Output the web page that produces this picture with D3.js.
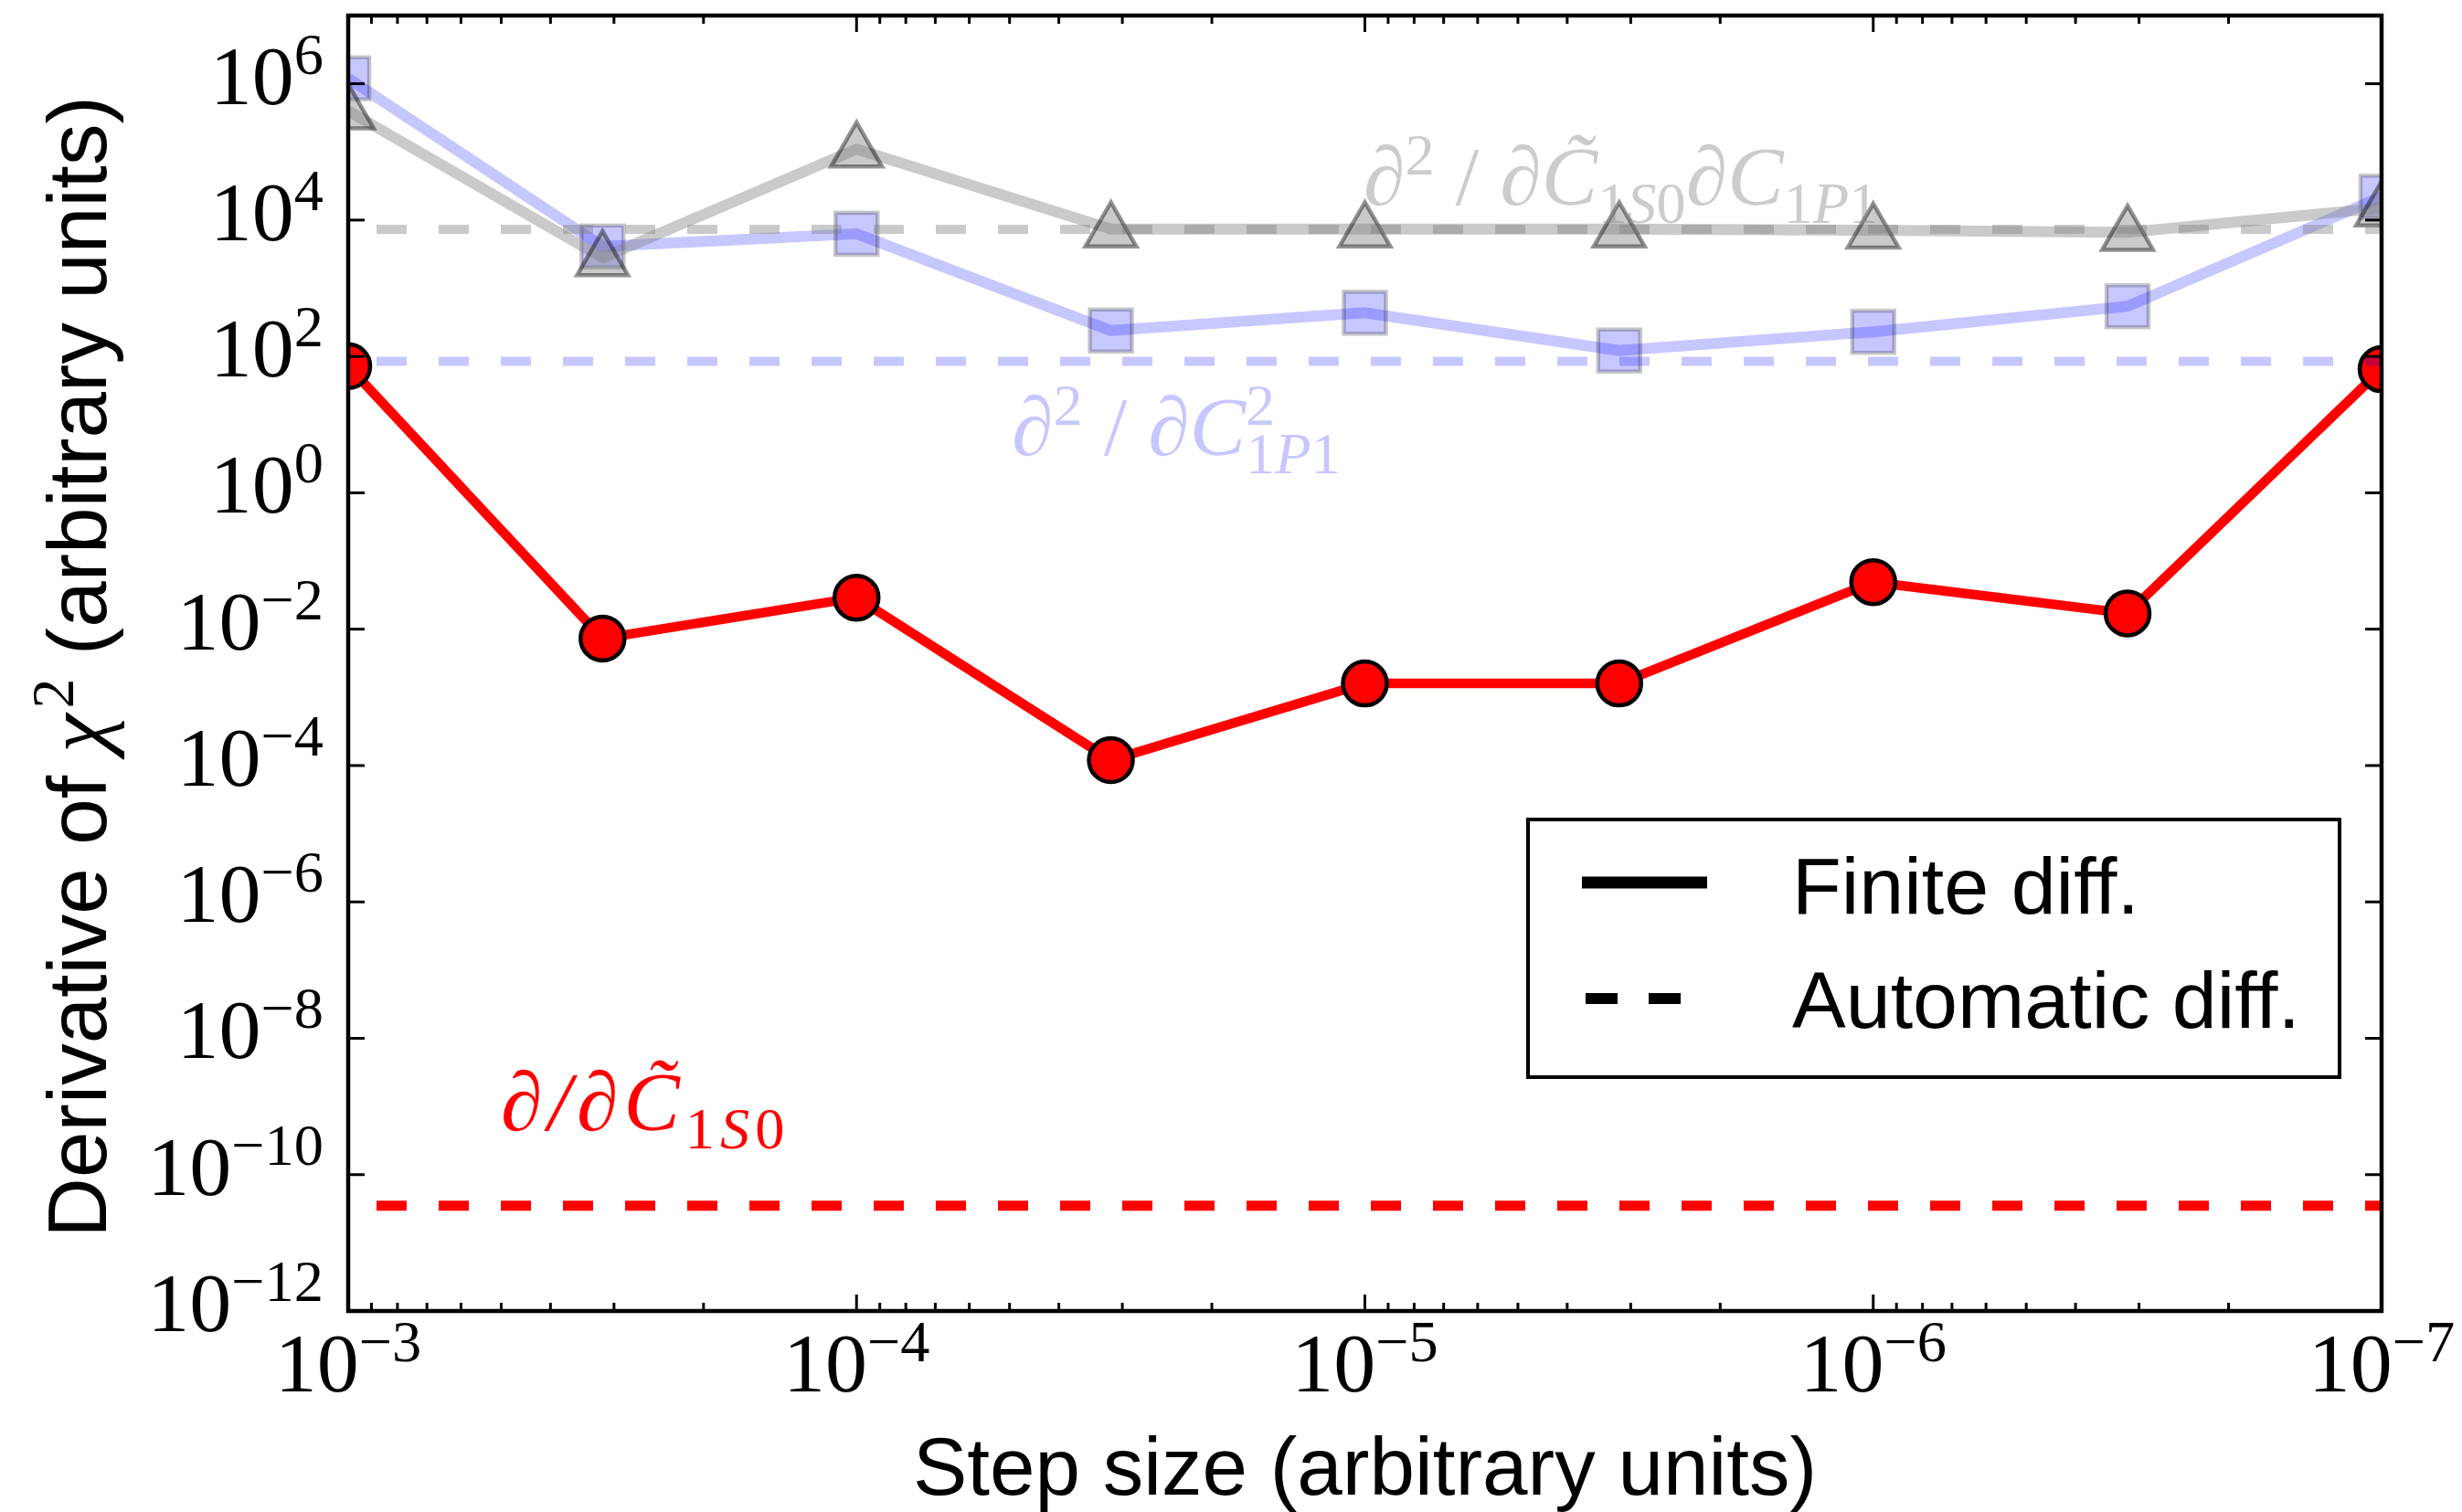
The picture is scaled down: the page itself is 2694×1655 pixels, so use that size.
<!DOCTYPE html>
<html>
<head>
<meta charset="utf-8">
<script src="https://cdn.jsdelivr.net/npm/d3@7"></script>
<style>
  html, body { margin: 0; padding: 0; background: #fff; }
  svg { display: block; }
</style>
</head>
<body>
<svg id="chart" width="2694" height="1655"></svg>
<script>
// Step sizes used for the finite-difference estimates
const stepSizes = [1e-3, 3.16e-4, 1e-4, 3.16e-5, 1e-5, 3.16e-6, 1e-6, 3.16e-7, 1e-7];

// dχ²/dC̃1S0 : finite difference vs automatic differentiation
const firstDerivFD = [72, 7.3e-3, 2.9e-2, 1.2e-4, 1.6e-3, 1.6e-3, 4.9e-2, 1.7e-2, 65];
const firstDerivAD = 3.5e-11;

// d²χ²/dC1P1² : finite difference vs automatic differentiation
const secondDerivFD = [1.2e6, 4.1e3, 6.3e3, 240, 437, 122, 230, 545, 2.2e4];
const secondDerivAD = 85;

// d²χ²/dC̃1S0 dC1P1 : finite difference vs automatic differentiation
const mixedDerivFD = [4e5, 2.8e3, 1.1e5, 7.4e3, 7.4e3, 7.4e3, 7.1e3, 6.6e3, 1.5e4];
const mixedDerivAD = 7.3e3;

// Axis ticks
const xTickExponents = [-3, -4, -5, -6, -7];
const yTickExponents = [-12, -10, -8, -6, -4, -2, 0, 2, 4, 6];
const xDomain = [1e-3, 1e-7];
const yDomain = [1e-12, 1e7];

const legendLabels = ["Finite diff.", "Automatic diff."];

const svg = d3.select("#chart");
const M = { left: 381, right: 2606, top: 17, bottom: 1435 };

const x = d3.scaleLog().domain(xDomain).range([M.left, M.right]);
const y = d3.scaleLog().domain(yDomain).range([M.bottom, M.top]);

const SERIF = "'Liberation Serif', 'DejaVu Serif', serif";
const SANS = "'Liberation Sans', Arial, Helvetica, sans-serif";

svg.append("defs").append("clipPath").attr("id", "plotClip")
  .append("rect")
  .attr("x", M.left).attr("y", M.top)
  .attr("width", M.right - M.left).attr("height", M.bottom - M.top);

const plot = svg.append("g").attr("clip-path", "url(#plotClip)");

const lineGen = d3.line().x(d => x(d[0])).y(d => y(d[1]));
const DASH = "33,35";
const DASH_OFFSET = 37;

function drawSeries(values, adValue, opts) {
  const pts = stepSizes.map((s, i) => [s, values[i]]);
  const g = plot.append("g");
  g.append("path")
    .attr("d", lineGen(pts))
    .attr("fill", "none")
    .attr("stroke", opts.color)
    .attr("stroke-opacity", opts.alpha)
    .attr("stroke-width", opts.lw)
    .attr("stroke-linejoin", "round");

  const markers = g.selectAll(".m").data(pts).enter();
  if (opts.marker === "circle") {
    markers.append("circle")
      .attr("cx", d => x(d[0])).attr("cy", d => y(d[1]))
      .attr("r", 24)
      .attr("fill", opts.color).attr("fill-opacity", opts.alpha)
      .attr("stroke", "#000").attr("stroke-opacity", opts.alpha)
      .attr("stroke-width", 4.5);
  } else if (opts.marker === "square") {
    markers.append("rect")
      .attr("x", d => x(d[0]) - 23).attr("y", d => y(d[1]) - 23)
      .attr("width", 46).attr("height", 46)
      .attr("fill", opts.color).attr("fill-opacity", opts.alpha)
      .attr("stroke", "#000").attr("stroke-opacity", opts.alpha)
      .attr("stroke-width", 4.5);
  } else if (opts.marker === "triangle") {
    const tri = d3.symbol().type(d3.symbolTriangle).size(1350);
    markers.append("path")
      .attr("d", tri)
      .attr("transform", d => `translate(${x(d[0])},${y(d[1]) + 3})`)
      .attr("fill", opts.color).attr("fill-opacity", opts.alpha)
      .attr("stroke", "#000").attr("stroke-opacity", opts.alpha)
      .attr("stroke-width", 4.5);
  }

  g.append("path")
    .attr("d", lineGen([[xDomain[0], adValue], [xDomain[1], adValue]]))
    .attr("fill", "none")
    .attr("stroke", opts.color)
    .attr("stroke-opacity", opts.alpha)
    .attr("stroke-width", opts.dashLw)
    .attr("stroke-dasharray", DASH)
    .attr("stroke-dashoffset", DASH_OFFSET);
}

drawSeries(firstDerivFD, firstDerivAD, { color: "#ff0000", alpha: 1, lw: 10.5, dashLw: 11, marker: "circle" });
drawSeries(secondDerivFD, secondDerivAD, { color: "#0000ff", alpha: 0.22, lw: 12, dashLw: 10, marker: "square" });
drawSeries(mixedDerivFD, mixedDerivAD, { color: "#808080", alpha: 0.42, lw: 12, dashLw: 10, marker: "triangle" });

// ---- math-style text helper ----
// parts: {t, it (italic), lv: 0 base | 1 sup | -1 sub, dx}
function mathText(sel, parts, size) {
  const raise = { 0: 0, 1: -0.36 * size, "-1": 0.22 * size };
  let cur = 0;
  parts.forEach(p => {
    const lv = p.lv || 0;
    const target = raise[lv];
    const ts = sel.append("tspan")
      .attr("font-style", p.it ? "italic" : "normal")
      .attr("font-size", lv === 0 ? size : size * 0.7)
      .attr("dy", target - cur)
      .text(p.t);
    if (p.dx) ts.attr("dx", p.dx);
    cur = target;
  });
}

// ---- frame, ticks ----
const axes = svg.append("g");
const majorLen = 18, minorLen = 9;

// x ticks (bottom & top, inward)
const xMajor = xTickExponents.map(e => Math.pow(10, e));
const xMinor = [];
for (let e = -7; e < -3; e++) for (let m = 2; m <= 9; m++) xMinor.push(m * Math.pow(10, e));

[[xMajor, majorLen], [xMinor, minorLen]].forEach(([vals, len]) => {
  vals.forEach(v => {
    const px = x(v);
    axes.append("line").attr("x1", px).attr("x2", px)
      .attr("y1", M.bottom).attr("y2", M.bottom - len)
      .attr("stroke", "#000").attr("stroke-width", 3);
    axes.append("line").attr("x1", px).attr("x2", px)
      .attr("y1", M.top).attr("y2", M.top + len)
      .attr("stroke", "#000").attr("stroke-width", 3);
  });
});

// y ticks (left & right, inward)
yTickExponents.forEach(e => {
  const py = y(Math.pow(10, e));
  axes.append("line").attr("x1", M.left).attr("x2", M.left + majorLen)
    .attr("y1", py).attr("y2", py).attr("stroke", "#000").attr("stroke-width", 3);
  axes.append("line").attr("x1", M.right).attr("x2", M.right - majorLen)
    .attr("y1", py).attr("y2", py).attr("stroke", "#000").attr("stroke-width", 3);
});

axes.append("rect")
  .attr("x", M.left).attr("y", M.top)
  .attr("width", M.right - M.left).attr("height", M.bottom - M.top)
  .attr("fill", "none").attr("stroke", "#000").attr("stroke-width", 4.5);

const TICK_FS = 92;
const fmtExp = e => (e < 0 ? "\u2212" : "") + Math.abs(e);

// x tick labels
xTickExponents.forEach(e => {
  const t = svg.append("text")
    .attr("x", x(Math.pow(10, e))).attr("y", 1523)
    .attr("text-anchor", "middle")
    .attr("font-family", SERIF).attr("fill", "#000");
  mathText(t, [{ t: "10" }, { t: fmtExp(e), lv: 1 }], TICK_FS);
});

// y tick labels
yTickExponents.forEach(e => {
  const t = svg.append("text")
    .attr("x", 354).attr("y", y(Math.pow(10, e)) + 22)
    .attr("text-anchor", "end")
    .attr("font-family", SERIF).attr("fill", "#000");
  mathText(t, [{ t: "10" }, { t: fmtExp(e), lv: 1 }], TICK_FS);
});

// axis labels
svg.append("text")
  .attr("x", (M.left + M.right) / 2).attr("y", 1636)
  .attr("text-anchor", "middle")
  .attr("font-family", SANS).attr("font-size", 89)
  .text("Step size (arbitrary units)");

const yl = svg.append("text")
  .attr("transform", `translate(116,${(M.top + M.bottom) / 2 + 4}) rotate(-90)`)
  .attr("text-anchor", "middle")
  .attr("font-family", SANS).attr("font-size", 91);
yl.append("tspan").text("Derivative of ");
yl.append("tspan").attr("font-family", SERIF).attr("font-style", "italic").attr("font-size", 96).text("\u03C7");
yl.append("tspan").attr("font-family", SERIF).attr("font-size", 66).attr("dy", -36).attr("dx", 6).text("2");
yl.append("tspan").attr("dy", 36).text(" (arbitrary units)");

// series annotations
const ANN_FS = 92;
const annGray = svg.append("text")
  .attr("x", 1492).attr("y", 224)
  .attr("font-family", SERIF).attr("fill", "#808080").attr("fill-opacity", 0.4);
mathText(annGray, [
  { t: "\u2202", it: true }, { t: "2", lv: 1 }, { t: " / " },
  { t: "\u2202C\u0303", it: true }, { t: "1", lv: -1 }, { t: "S", it: true, lv: -1 }, { t: "0", lv: -1 },
  { t: "\u2202C", it: true }, { t: "1", lv: -1 }, { t: "P", it: true, lv: -1 }, { t: "1", lv: -1 }
], ANN_FS);

const annBlue = svg.append("text")
  .attr("x", 1107).attr("y", 498)
  .attr("font-family", SERIF).attr("fill", "#0000ff").attr("fill-opacity", 0.22);
mathText(annBlue, [
  { t: "\u2202", it: true }, { t: "2", lv: 1 }, { t: " / " },
  { t: "\u2202C", it: true }, { t: "2", lv: 1 },
  { t: "1", lv: -1, dx: -ANN_FS * 0.35 }, { t: "P", it: true, lv: -1 }, { t: "1", lv: -1 }
], ANN_FS);

const annRed = svg.append("text")
  .attr("x", 548).attr("y", 1237)
  .attr("font-family", SERIF).attr("fill", "#ff0000")
  .attr("letter-spacing", 6);
mathText(annRed, [
  { t: "\u2202/\u2202C\u0303", it: true }, { t: "1", lv: -1 }, { t: "S", it: true, lv: -1 }, { t: "0", lv: -1 }
], ANN_FS);

// legend
const lg = svg.append("g");
lg.append("rect")
  .attr("x", 1672).attr("y", 897).attr("width", 888).attr("height", 282)
  .attr("fill", "#fff").attr("stroke", "#000").attr("stroke-width", 4);
lg.append("line").attr("x1", 1731).attr("x2", 1868).attr("y1", 966).attr("y2", 966)
  .attr("stroke", "#000").attr("stroke-width", 13);
lg.append("line").attr("x1", 1735).attr("x2", 1842).attr("y1", 1093).attr("y2", 1093)
  .attr("stroke", "#000").attr("stroke-width", 12).attr("stroke-dasharray", "35,34");
lg.selectAll(".lt").data(legendLabels).enter().append("text")
  .attr("x", 1961).attr("y", (d, i) => i === 0 ? 1000 : 1125)
  .attr("font-family", SANS).attr("font-size", 88)
  .text(d => d);
</script>
</body>
</html>
